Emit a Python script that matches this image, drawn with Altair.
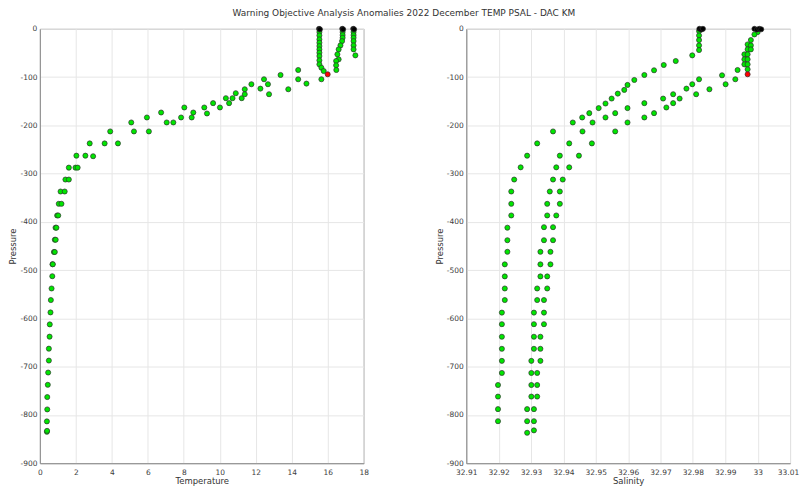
import altair as alt
import pandas as pd

TITLE = "Warning Objective Analysis Anomalies 2022 December TEMP PSAL - DAC KM"

# ---------------- Temperature panel ----------------
temp_T = [
    15.54, 15.54, 15.54, 15.54, 15.54, 15.54, 15.54, 15.54, 15.54, 15.54, 15.65, 15.78, 15.65,
    16.83, 16.83, 16.83, 16.80, 16.71, 16.61, 16.54, 16.61, 16.47, 16.47, 16.48,
    17.44, 17.44, 17.44, 17.44, 17.44, 17.44, 17.54,
    3.60, 3.91, 4.34, 5.08, 5.23, 5.95, 6.06, 6.74, 7.05, 7.42, 7.85, 8.03, 8.44, 8.53,
    9.14, 9.29, 9.63, 10.01, 10.34, 10.52, 10.71, 10.89, 11.22, 11.39, 11.39, 11.76,
    12.26, 12.46, 12.68, 12.74, 13.38, 13.81, 14.36, 14.36, 14.82,
    2.77, 2.03, 2.53, 2.96, 1.61, 1.98, 2.10, 1.42, 1.61, 1.15, 1.38, 1.05, 1.20,
    0.96, 1.02, 0.87, 0.92, 0.83, 0.88, 0.78, 0.83, 0.70, 0.72, 0.69, 0.65, 0.61, 0.59,
    0.55, 0.54, 0.50, 0.50, 0.46, 0.44, 0.41, 0.41, 0.39, 0.39, 0.40,
]
temp_P = [
    -6.8, -13.7, -21.9, -28.8, -35.7, -42.6, -49.5, -56.4, -65.3, -73.6, -80.5, -87.4, -104.5,
    -6.8, -13.0, -18.6, -25.4, -34.3, -42.6, -52.9, -63.2, -66.6, -75.6, -85.3,
    -6.8, -13.0, -18.6, -25.4, -34.3, -42.6, -55.0,
    -237.4, -212.6, -237.4, -194.0, -212.6, -183.7, -212.6, -173.4, -194.0, -194.0, -183.7, -163.0, -183.7, -173.4,
    -163.0, -175.4, -154.0, -163.0, -143.7, -154.0, -143.7, -133.4, -143.7, -125.2, -135.5, -114.8,
    -123.9, -104.5, -114.8, -135.5, -95.6, -125.2, -85.3, -104.5, -113.5,
    -237.4, -262.8, -262.8, -264.0, -287.6, -287.6, -287.6, -312.3, -312.3, -337.1, -337.1, -362.6, -362.6,
    -386.7, -386.7, -412.0, -412.0, -437.0, -437.0, -462.4, -462.4, -487.8, -487.8, -512.6, -538.0, -562.0, -587.6,
    -612.4, -637.8, -662.7, -687.4, -712.2, -737.6, -763.0, -788.6, -813.4, -835.0, -833.0,
]
temp_red_T = [16.0]
temp_red_P = [-94.2]
temp_top_T = [15.52, 15.57, 16.81, 16.86, 17.42, 17.47]
temp_top_P = [0.0, -1.0, 0.0, -1.0, 0.0, -1.0]

# ---------------- Salinity panel ----------------
sal_S = [
    # surface column near 32.982 and its branch
    32.9819, 32.9819, 32.9819, 32.9819, 32.9819, 32.9798, 32.9747, 32.9710, 32.9680, 32.9650,
    32.9619, 32.9598, 32.9588, 32.9568, 32.9549, 32.9530, 32.9509, 32.9480, 32.9458, 32.9429,
    32.9368, 32.9319, 32.9288, 32.9268, 32.9248, 32.9239, 32.9239, 32.9239,
    32.9227, 32.9227, 32.9227, 32.9219, 32.9219, 32.9219, 32.9219, 32.9210, 32.9210, 32.9210,
    32.9210, 32.9210, 32.9210, 32.9198, 32.9198, 32.9198, 32.9198,
    # surface column near 33.00
    33.0000, 32.9990, 32.9979, 32.9969, 32.9979, 32.9969, 32.9979, 32.9959, 32.9969, 32.9959,
    32.9969, 32.9959, 32.9969, 32.9969,
    # lower branch
    32.9938, 32.9890, 32.9819, 32.9931, 32.9798, 32.9901, 32.9780, 32.9851, 32.9739, 32.9810,
    32.9708, 32.9759, 32.9650, 32.9739, 32.9598, 32.9718, 32.9560, 32.9680, 32.9530, 32.9650,
    32.9490, 32.9598, 32.9459, 32.9560, 32.9418, 32.9488, 32.9389, 32.9448, 32.9378, 32.9418,
    32.9368, 32.9398, 32.9358, 32.9389, 32.9350, 32.9389, 32.9350, 32.9378,
    # deep, two profiles
    32.9340, 32.9340, 32.9329, 32.9329, 32.9329, 32.9319, 32.9319, 32.9309, 32.9309, 32.9309,
    32.9309, 32.9301, 32.9301, 32.9301, 32.9301, 32.9288, 32.9288, 32.9288,
    32.9368, 32.9368, 32.9360, 32.9360, 32.9350, 32.9350, 32.9340, 32.9340, 32.9340, 32.9329,
    32.9329, 32.9329, 32.9319, 32.9319, 32.9319, 32.9309, 32.9309, 32.9309,
]
sal_P = [
    -4.7, -13.7, -23.3, -34.3, -44.0, -55.0, -66.7, -74.9, -85.9, -95.6,
    -105.9, -116.2, -126.5, -134.2, -144.5, -154.8, -164.3, -174.7, -183.7, -194.1,
    -212.6, -237.4, -262.8, -287.0, -312.3, -337.1, -362.6, -386.7,
    -412.0, -438.0, -462.0, -488.0, -513.0, -538.0, -562.0, -588.0, -612.0, -638.0,
    -663.0, -688.0, -713.0, -738.0, -762.0, -788.0, -813.0,
    -6.8, -11.6, -23.3, -32.3, -34.3, -42.6, -42.6, -52.9, -52.9, -63.2,
    -63.2, -73.6, -73.6, -83.9,
    -85.3, -96.3, -104.5, -104.5, -114.8, -114.8, -123.9, -125.2, -135.5, -135.5,
    -144.5, -144.5, -154.0, -154.0, -164.3, -163.0, -174.7, -174.7, -183.7, -183.7,
    -194.1, -194.1, -212.6, -212.6, -237.4, -237.4, -262.8, -262.8, -287.0, -287.0,
    -312.3, -312.3, -337.1, -337.1, -362.6, -362.6, -386.7, -386.7,
    -411.0, -438.0, -462.0, -488.0, -513.0, -538.0, -562.0, -588.0, -612.0, -638.0,
    -663.0, -688.0, -713.0, -738.0, -762.0, -788.0, -813.0, -837.0,
    -411.0, -438.0, -462.0, -488.0, -513.0, -538.0, -562.0, -588.0, -612.0, -638.0,
    -663.0, -688.0, -713.0, -738.0, -762.0, -788.0, -813.0, -832.0,
]
sal_red_S = [32.9969]
sal_red_P = [-94.2]
sal_top_S = [32.9820, 32.9826, 32.9831, 32.9990, 32.9998, 33.0005, 33.0011]
sal_top_P = [0.0, -1.5, 0.0, 0.0, -1.5, 0.0, -1.0]

temp_ticks = list(range(0, 19, 2))
sal_ticks = [32.91, 32.92, 32.93, 32.94, 32.95, 32.96, 32.97, 32.98, 32.99, 33.00, 33.01]
p_ticks = list(range(-900, 1, 100))

FLAGS = ["good", "bad", "surface"]
COLORS = ["#00e600", "#ff0000", "#000000"]


def frame(xs, ys, flag):
    return pd.DataFrame({"x": xs, "p": ys, "flag": flag})


df_t = pd.concat([
    frame(temp_T, temp_P, "good"),
    frame(temp_top_T, temp_top_P, "surface"),
    frame(temp_red_T, temp_red_P, "bad"),
], ignore_index=True)
df_s = pd.concat([
    frame(sal_S, sal_P, "good"),
    frame(sal_top_S, sal_top_P, "surface"),
    frame(sal_red_S, sal_red_P, "bad"),
], ignore_index=True)

yaxis = alt.Axis(values=p_ticks, title="Pressure", labelExpr="datum.value + ''",
                 titlePadding=2, labelPadding=3)


def panel(df, domain, ticks, xtitle, fmt, last_shift):
    thr = domain[1] - 0.001 * (domain[1] - domain[0])
    return alt.Chart(df).mark_point(
        filled=True, shape="circle", size=26, stroke="#303030", strokeWidth=0.7, opacity=1
    ).encode(
        x=alt.X("x:Q", scale=alt.Scale(domain=domain, nice=False, zero=False),
                axis=alt.Axis(values=ticks, title=xtitle, format=fmt, labelPadding=5, titlePadding=1,
                              labelFlush=False,
                              labelOffset={"condition": {"test": f"datum.value > {thr}",
                                                         "value": last_shift}, "value": 0})),
        y=alt.Y("p:Q", scale=alt.Scale(domain=[-900, 0], nice=False), axis=yaxis),
        fill=alt.Fill("flag:N", scale=alt.Scale(domain=FLAGS, range=COLORS), legend=None),
    ).properties(width=325, height=436)


left = panel(df_t, [0, 18], temp_ticks, "Temperature", "d", 0)
right = panel(df_s, [32.91, 33.01], sal_ticks, "Salinity", ".4~r", -2)

chart = alt.hconcat(left, right, spacing=65).properties(
    title=alt.TitleParams(TITLE, fontSize=9, fontWeight="normal", color="#333333",
                          anchor="middle", offset=6, font="DejaVu Sans"),
    padding={"left": 0, "top": 0, "right": 0, "bottom": 0},
).configure_view(
    stroke="#8c8c8c", strokeWidth=1
).configure_axis(
    grid=True, gridColor="#e6e6e6", gridWidth=1,
    domainColor="#8c8c8c", domainWidth=1,
    ticks=False, tickSize=0,
    labelFont="DejaVu Sans", labelFontSize=7.5, labelColor="#404040",
    titleFont="DejaVu Sans", titleFontSize=8.5, titleFontWeight="normal", titleColor="#333333",
)

chart.save("out.html", embed_options={"renderer": "svg", "actions": False})
